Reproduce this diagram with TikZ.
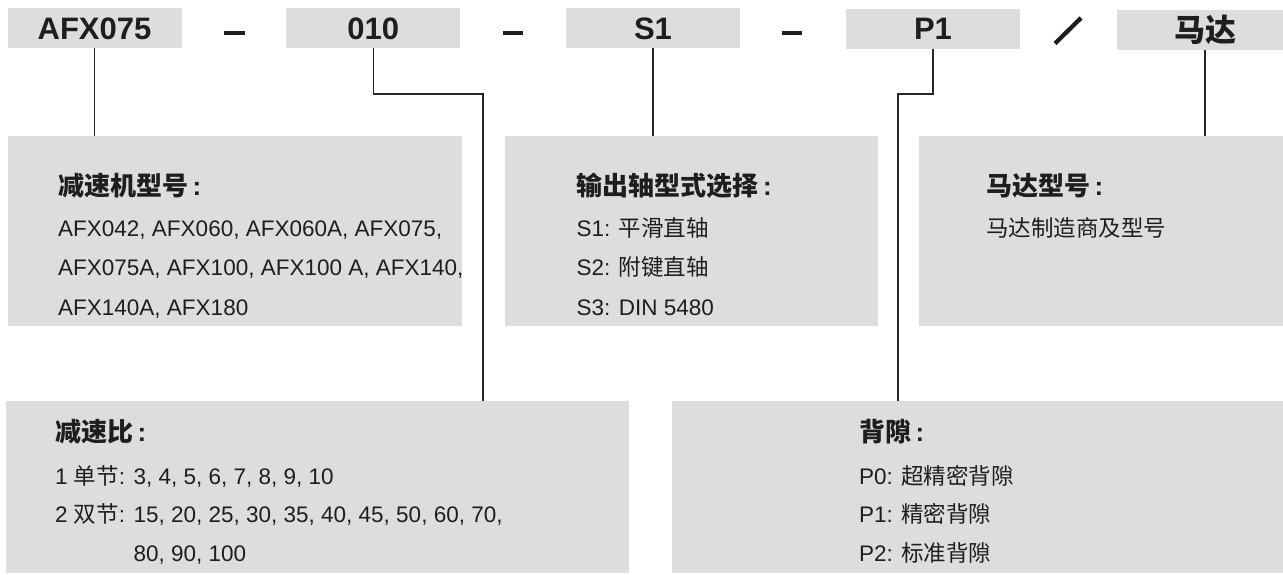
\documentclass[tikz,border=0pt]{standalone}
\usepackage{fontspec}
\setmainfont{Liberation Sans}
\newfontfamily\cjk{Noto Sans CJK SC}
\newcommand{\zh}[1]{{\cjk #1}}
\definecolor{boxgray}{RGB}{220,221,223}
\definecolor{linegray}{RGB}{40,38,38}
\definecolor{textblack}{RGB}{30,30,30}
\tikzset{
  codebox/.style={fill=boxgray, minimum height=40pt, minimum width=174pt, inner sep=0pt, outer sep=0pt,
    font=\fontsize{31}{36}\selectfont\bfseries, text=textblack},
  infobox/.style={fill=boxgray, anchor=north west, inner sep=0pt, outer sep=0pt},
  titletext/.style={anchor=base west, inner sep=0pt, font=\fontsize{26}{30}\selectfont\bfseries, text=textblack},
  bodytext/.style={anchor=base west, inner sep=0pt, font=\fontsize{22.5}{27}\selectfont, text=textblack},
  conn/.style={draw=linegray, line width=1.2pt},
  sepbar/.style={draw=textblack, line width=4.3pt}
}
\begin{document}
\begin{tikzpicture}[x=1pt,y=-1pt]
\useasboundingbox (0,0) rectangle (1283,575);
\fill[white] (0,0) rectangle (1283,575);

% code boxes
\node[codebox] (t1) at (94.5,28.5) {AFX075};
\node[codebox] (t2) at (373.3,28.5) {010};
\node[codebox] (t3) at (653,28.5) {S1};
\node[codebox] (t4) at (933,29) {P1};
\node[codebox, minimum width=166pt] (t5) at (1200,30) {\hspace*{10pt}\zh{\bfseries 马达}};

% separators
\draw[sepbar] (224,33) -- (245,33);
\draw[sepbar] (502.5,33) -- (523,33);
\draw[sepbar] (781.5,33) -- (802,33);
\draw[sepbar] (1055,43.5) -- (1081,18);

% info boxes
\node[infobox, minimum width=453.5pt, minimum height=189.5pt] (b1) at (8,136) {};
\node[infobox, minimum width=373pt, minimum height=189.5pt] (b2) at (504.5,136) {};
\node[infobox, minimum width=364pt, minimum height=189.5pt] (b3) at (919,136) {};
\node[infobox, minimum width=623pt, minimum height=172pt] (b4) at (6,401) {};
\node[infobox, minimum width=611pt, minimum height=172pt] (b5) at (672,401) {};

% connectors
\coordinate (e2) at (483,94);
\coordinate (e4) at (898,94);
\draw[conn] (t1.south) -- (t1.south |- b1.north);
\draw[conn] (t2.south) |- (e2) -- (e2 |- b4.north);
\draw[conn] (t3.south) -- (t3.south |- b2.north);
\draw[conn] (t4.south) |- (e4) -- (e4 |- b5.north);
\draw[conn] ([xshift=5pt]t5.south) -- ([xshift=5pt]t5.south |- b3.north);

% box 1
\node[titletext] (h1) at (58,196) {\zh{减速机型号}\,:};
\node[bodytext] (l1a) at (58,236) {AFX042, AFX060, AFX060A, AFX075,};
\node[bodytext] (l1b) at (58,275) {AFX075A, AFX100, AFX100 A, AFX140,};
\node[bodytext] (l1c) at (58,315) {AFX140A, AFX180};

% box 2
\node[titletext] (h2) at (576.5,196) {\zh{输出轴型式选择}\,:};
\node[bodytext] (l2a) at (576.5,236) {S1: \zh{平滑直轴}};
\node[bodytext] (l2b) at (576.5,275) {S2: \zh{附键直轴}};
\node[bodytext] (l2c) at (576.5,315) {S3: DIN 5480};

% box 3
\node[titletext] (h3) at (986,196) {\zh{马达型号}\,:};
\node[bodytext] (l3a) at (986,236) {\zh{马达制造商及型号}};

% box 4
\node[titletext] (h4) at (55,441) {\zh{减速比}\,:};
\node[bodytext] (l4a) at (55,484) {1 \zh{单节}: 3, 4, 5, 6, 7, 8, 9, 10};
\node[bodytext] (l4b) at (55,522) {2 \zh{双节}: 15, 20, 25, 30, 35, 40, 45, 50, 60, 70,};
\node[bodytext] (l4c) at (55,561) {\hphantom{2 \zh{双节}: }80, 90, 100};

% box 5
\node[titletext] (h5) at (859,441) {\zh{背隙}\,:};
\node[bodytext] (l5a) at (859,484) {P0: \zh{超精密背隙}};
\node[bodytext] (l5b) at (859,522) {P1: \zh{精密背隙}};
\node[bodytext] (l5c) at (859,561) {P2: \zh{标准背隙}};
\end{tikzpicture}
\end{document}
